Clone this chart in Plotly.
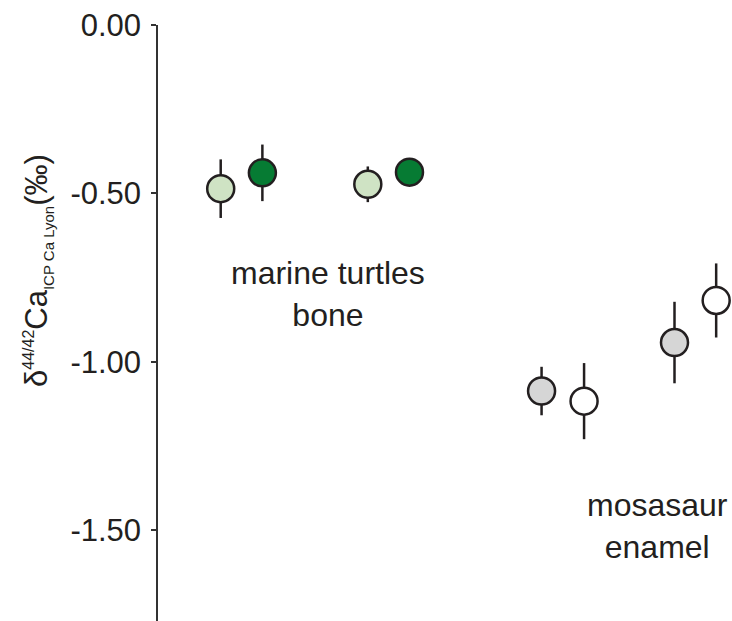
import plotly.graph_objects as go

# sample positions (arbitrary x units) and values
x_pos = [1.0, 2.0, 4.53, 5.53, 8.70, 9.72, 11.89, 12.89]
values = [-0.486, -0.439, -0.473, -0.437, -1.087, -1.117, -0.943, -0.818]
errors = [0.087, 0.084, 0.053, 0.03, 0.072, 0.113, 0.121, 0.110]
fills = ["#cfe3c4", "#067b33", "#cfe3c4", "#067b33", "#d6d6d6", "#ffffff", "#d6d6d6", "#ffffff"]

y_ticks = [0.0, -0.5, -1.0, -1.5]
y_tick_text = ["0.00", "-0.50", "-1.00", "-1.50"]

W, H = 732, 621
ml, mt = 158, 25
TXT = "#231f20"
FONT = "Liberation Sans, Arial, sans-serif"

fig = go.Figure()
fig.add_trace(go.Scatter(
    x=x_pos, y=values, mode="markers",
    error_y=dict(type="data", array=errors, visible=True, color=TXT, thickness=2.5, width=0),
    marker=dict(size=27, color=fills, line=dict(color=TXT, width=2.5)),
    showlegend=False, hoverinfo="skip",
))

fig.update_layout(
    width=W, height=H,
    margin=dict(l=ml, r=0, t=mt, b=0, pad=0),
    plot_bgcolor="white", paper_bgcolor="white",
    font=dict(family=FONT, color=TXT),
    xaxis=dict(range=[-0.505, 13.27], visible=False, showgrid=False, zeroline=False),
    yaxis=dict(range=[-1.770, 0.0001], tickvals=y_ticks, ticktext=y_tick_text,
               showline=True, linecolor="#333333", linewidth=1.5,
               ticks="outside", ticklen=5, tickwidth=1.5, tickcolor="#333333",
               ticklabelstandoff=4, ticklabeloverflow="allow",
               tickfont=dict(size=31, family=FONT, color=TXT),
               showgrid=False, zeroline=False),
)

def px_x(sx):
    return (sx - ml) / (W - ml)

def px_y(sy):
    return (H - sy) / (H - mt)

fig.add_annotation(x=px_x(328), y=px_y(294), xref="paper", yref="paper",
                   text="marine turtles<br>bone", showarrow=False,
                   font=dict(size=32, family=FONT, color=TXT), xanchor="center", yanchor="middle")
fig.add_annotation(x=px_x(657), y=px_y(526), xref="paper", yref="paper",
                   text="mosasaur<br>enamel", showarrow=False,
                   font=dict(size=32, family=FONT, color=TXT), xanchor="center", yanchor="middle")
fig.add_annotation(x=px_x(38), y=px_y(271), xref="paper", yref="paper",
                   text=("δ<sup><span style='font-size:16px'>44/42</span></sup>Ca"
                         "<sub><span style='font-size:15px'>ICP Ca Lyon</span></sub>(‰)"),
                   showarrow=False, textangle=-90,
                   font=dict(size=31, family=FONT, color=TXT), xanchor="center", yanchor="middle")

fig.write_html("out.html", config={"displayModeBar": False},
               post_script="document.body.style.margin='0';document.body.style.overflow='hidden';")
